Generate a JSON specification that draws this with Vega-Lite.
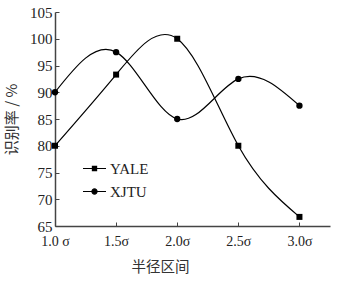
{
  "$schema": "https://vega.github.io/schema/vega-lite/v6.json",
  "width": 275,
  "height": 214,
  "autosize": {"type": "none"},
  "padding": {"left": 55, "top": 12, "right": 24, "bottom": 60},
  "config": {
    "view": {"stroke": null},
    "font": "DejaVu Serif",
    "legend": {"labelFont": "DejaVu Serif"}
  },
  "data": {
    "values": [
      {"series": "YALE", "x": 1.0, "value": 80},
      {"series": "YALE", "x": 1.5, "value": 93.3},
      {"series": "YALE", "x": 2.0, "value": 100},
      {"series": "YALE", "x": 2.5, "value": 80},
      {"series": "YALE", "x": 3.0, "value": 66.7},
      {"series": "XJTU", "x": 1.0, "value": 90},
      {"series": "XJTU", "x": 1.5, "value": 97.5},
      {"series": "XJTU", "x": 2.0, "value": 85},
      {"series": "XJTU", "x": 2.5, "value": 92.5},
      {"series": "XJTU", "x": 3.0, "value": 87.5}
    ]
  },
  "encoding": {
    "x": {
      "field": "x",
      "type": "quantitative",
      "scale": {"domain": [1, 3.25], "nice": false, "zero": false},
      "axis": {
        "values": [1, 1.5, 2, 2.5, 3],
        "labelExpr": "datum.value === 1 ? '1.0 σ' : format(datum.value, '.1f') + 'σ'",
        "title": "半径区间",
        "titleFont": "Noto Sans CJK SC",
        "titleFontSize": 14.5,
        "titleFontWeight": "normal",
        "titleColor": "#333",
        "titleX": 105,
        "titlePadding": 12,
        "labelFont": "Liberation Serif",
        "labelFontSize": 14,
        "labelColor": "#222",
        "labelPadding": 12,
        "labelFlush": false,
        "domainColor": "#444",
        "domainWidth": 1.5,
        "tickColor": "#444",
        "tickSize": -4,
        "grid": false
      }
    },
    "y": {
      "field": "value",
      "type": "quantitative",
      "scale": {"domain": [65, 105], "nice": false, "zero": false},
      "axis": {
        "values": [65, 70, 75, 80, 85, 90, 95, 100, 105],
        "title": "识别率 / %",
        "titleFont": "Noto Sans CJK SC",
        "titleFontSize": 15,
        "titleFontWeight": "normal",
        "titleColor": "#333",
        "titlePadding": 10,
        "labelFont": "Liberation Serif",
        "labelFontSize": 15,
        "labelColor": "#222",
        "labelPadding": 7,
        "labelFlush": false,
        "domainColor": "#444",
        "domainWidth": 1.5,
        "tickColor": "#444",
        "tickSize": -4,
        "grid": false
      }
    }
  },
  "layer": [
    {
      "mark": {"type": "line", "interpolate": "natural", "strokeWidth": 1.2},
      "encoding": {
        "color": {
          "field": "series",
          "type": "nominal",
          "scale": {"domain": ["YALE", "XJTU"], "range": ["black", "black"]},
          "legend": {
            "orient": "none",
            "legendX": 27,
            "legendY": 144,
            "title": null,
            "padding": 0,
            "labelFont": "Liberation Serif",
            "labelFontSize": 15,
            "labelColor": "#222",
            "labelOffset": 3,
            "rowPadding": 2,
            "symbolSize": 529,
            "symbolStrokeWidth": 1.2,
            "encode": {
              "labels": {
                "update": {
                  "font": {"value": "Liberation Serif"}
                }
              },
              "symbols": {
                "update": {
                  "shape": {"signal": "datum.value === 'YALE' ? 'M-1,0H1M-0.18,-0.18H0.18V0.18H-0.18Z' : 'M-1,0H1M0.22,0A0.22,0.22 0 1,1 -0.22,0A0.22,0.22 0 1,1 0.22,0Z'"},
                  "fill": {"value": "black"},
                  "stroke": {"value": "black"},
                  "strokeWidth": {"value": 1.2},
                  "opacity": {"value": 1}
                }
              }
            }
          }
        }
      }
    },
    {
      "transform": [{"filter": "datum.series === 'YALE'"}],
      "mark": {"type": "point", "shape": "square", "filled": true, "color": "black", "opacity": 1, "size": 36}
    },
    {
      "transform": [{"filter": "datum.series === 'XJTU'"}],
      "mark": {"type": "point", "shape": "circle", "filled": true, "color": "black", "opacity": 1, "size": 40}
    }
  ]
}
